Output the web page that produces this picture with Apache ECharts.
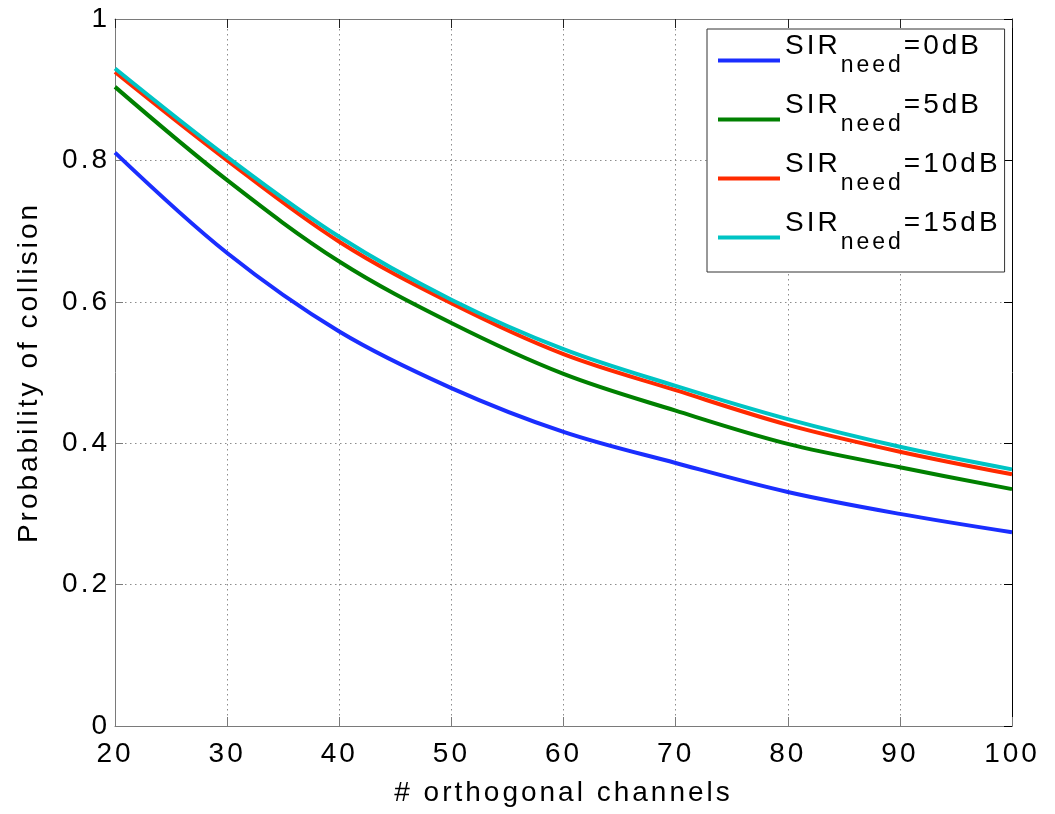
<!DOCTYPE html>
<html>
<head>
<meta charset="utf-8">
<script src="https://cdn.jsdelivr.net/npm/echarts@6/dist/echarts.min.js"></script>
<style>
  html, body { margin: 0; padding: 0; background: #ffffff; }
  #chart { width: 1055px; height: 814px; }
</style>
</head>
<body>
<div id="chart"></div>
<script>
// Number of orthogonal channels
const channels = [20, 30, 40, 50, 60, 70, 80, 90, 100];

// Probability of collision for each required SIR
const sir0dB  = [0.811, 0.669, 0.558, 0.478, 0.416, 0.372, 0.331, 0.300, 0.274];
const sir5dB  = [0.904, 0.772, 0.657, 0.570, 0.498, 0.446, 0.399, 0.366, 0.335];
const sir10dB = [0.925, 0.800, 0.685, 0.598, 0.526, 0.475, 0.426, 0.388, 0.356];
const sir15dB = [0.930, 0.805, 0.692, 0.603, 0.533, 0.481, 0.434, 0.395, 0.363];

const seriesNames = ['0dB', '5dB', '10dB', '15dB'];
const seriesData = [sir0dB, sir5dB, sir10dB, sir15dB];
const seriesColors = ['#1a2eff', '#008000', '#ff2a00', '#00c4c4'];

const FONT = "'Liberation Sans', Arial, Helvetica, sans-serif";

// Slightly open letter spacing for all canvas text (used for measuring and drawing alike)
const baseGetContext = HTMLCanvasElement.prototype.getContext;
HTMLCanvasElement.prototype.getContext = function (type, opts) {
  const ctx = baseGetContext.call(this, type, opts);
  if (type === '2d' && ctx && 'letterSpacing' in ctx) ctx.letterSpacing = '3px';
  return ctx;
};

const chart = echarts.init(document.getElementById('chart'), null, { renderer: 'canvas' });

const gridLine = { show: true, lineStyle: { color: '#8c8c8c', width: 1, type: [1.5, 3.5] } };

const option = {
  backgroundColor: '#ffffff',
  animation: false,
  grid: { left: 115, right: 43, top: 19, bottom: 88, containLabel: false },
  legend: {
    left: 707,
    top: 29,
    orient: 'vertical',
    padding: [2, 4, 5, 11],
    itemGap: 0,
    itemWidth: 62,
    itemHeight: 4,
    icon: 'rect',
    backgroundColor: '#ffffff',
    borderColor: '#333333',
    borderWidth: 1,
    data: seriesNames,
    formatter: name => '{a|SIR}{b|need}{a|=' + name + '}',
    textStyle: {
      fontFamily: FONT,
      color: '#000',
      rich: {
        a: { fontFamily: FONT, fontSize: 28, lineHeight: 30, padding: [0, 0, 28, 0], color: '#000' },
        b: { fontFamily: FONT, fontSize: 23, lineHeight: 23, padding: [10, 0, 0, 0], color: '#000' }
      }
    }
  },
  xAxis: [
    {
      type: 'value',
      position: 'bottom',
      min: 20, max: 100, interval: 10,
      name: '# orthogonal channels',
      nameLocation: 'middle',
      nameGap: 52,
      nameTextStyle: { fontFamily: FONT, fontSize: 28, color: '#000' },
      axisLine: { show: true, onZero: false, lineStyle: { color: '#7a7a7a', width: 1 } },
      axisTick: { show: true, inside: true, length: 9, lineStyle: { color: '#7a7a7a' } },
      axisLabel: { fontFamily: FONT, fontSize: 28, color: '#000', margin: 13 },
      splitLine: gridLine
    },
    {
      type: 'value',
      position: 'top',
      min: 20, max: 100, interval: 10,
      axisLine: { show: true, onZero: false, lineStyle: { color: '#7a7a7a', width: 1 } },
      axisTick: { show: true, inside: true, length: 9, lineStyle: { color: '#222' } },
      axisLabel: { show: false },
      splitLine: { show: false }
    }
  ],
  yAxis: [
    {
      type: 'value',
      position: 'left',
      min: 0, max: 1, interval: 0.2,
      name: 'Probability of collision',
      nameLocation: 'middle',
      nameGap: 70,
      nameTextStyle: { fontFamily: FONT, fontSize: 28, color: '#000' },
      axisLine: { show: true, onZero: false, lineStyle: { color: '#7a7a7a', width: 1 } },
      axisTick: { show: true, inside: true, length: 8, lineStyle: { color: '#7a7a7a' } },
      axisLabel: { fontFamily: FONT, fontSize: 28, color: '#000', margin: 5 },
      splitLine: gridLine
    },
    {
      type: 'value',
      position: 'right',
      min: 0, max: 1, interval: 0.2,
      axisLine: { show: true, onZero: false, lineStyle: { color: '#000', width: 1 } },
      axisTick: { show: true, inside: true, length: 8, lineStyle: { color: '#000' } },
      axisLabel: { show: false },
      splitLine: { show: false }
    }
  ],
  series: seriesNames.map((name, i) => ({
    name: name,
    type: 'line',
    xAxisIndex: 0,
    yAxisIndex: 0,
    data: channels.map((c, j) => [c, seriesData[i][j]]),
    smooth: 0.35,
    symbol: 'none',
    showSymbol: false,
    color: seriesColors[i],
    lineStyle: { color: seriesColors[i], width: 4 },
    z: 3 + i
  }))
};

chart.setOption(option);
</script>
</body>
</html>
